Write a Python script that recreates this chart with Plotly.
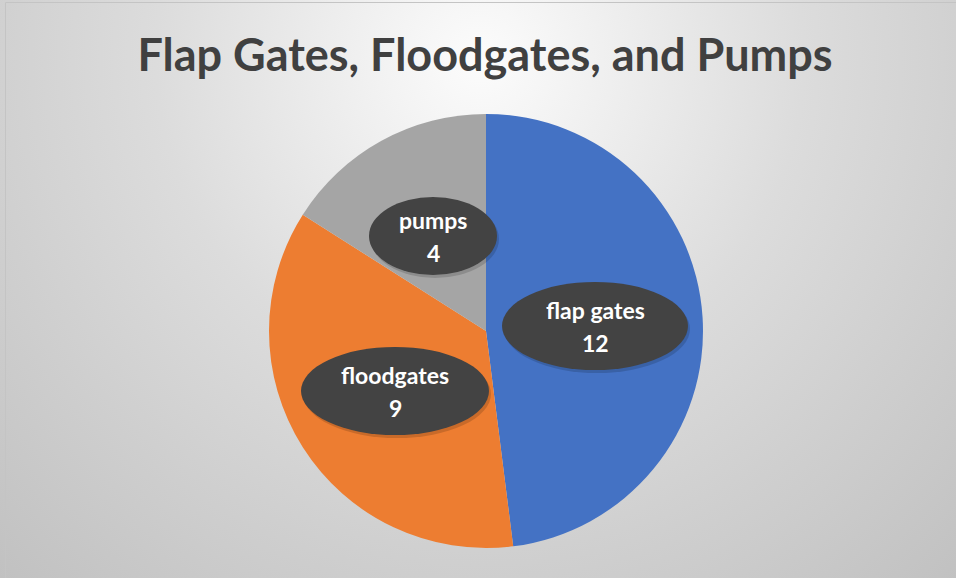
import base64
import plotly.graph_objects as go

# ---- data ----
categories = ["flap gates", "floodgates", "pumps"]
values = [12, 9, 4]
colors = ["#4472C4", "#ED7D31", "#A5A5A5"]
title_text = "Flap Gates, Floodgates, and Pumps"

# ---- layout (pixels) ----
W, H = 956, 578
pie_cx, pie_cy, pie_r = 486, 331, 217
# label bubble centre x, centre y, width, height (pixels), same order as categories
bubbles = [(595, 326, 186, 88), (395, 391, 188, 88), (433, 236, 128, 78)]
FONT = "Lato"


def px(x):
    return x / W


def py(y):
    return 1 - y / H


svg = f'''<svg xmlns="http://www.w3.org/2000/svg" width="{W}" height="{H}">
<defs><radialGradient id="g" gradientUnits="userSpaceOnUse" cx="480" cy="60" r="720">
<stop offset="0" stop-color="#fcfcfc"/>
<stop offset="0.1" stop-color="#f5f5f5"/>
<stop offset="0.45" stop-color="#dcdcdc"/>
<stop offset="0.7" stop-color="#cfcfcf"/>
<stop offset="1" stop-color="#c0c0c0"/>
</radialGradient></defs>
<rect width="{W}" height="{H}" fill="url(#g)"/></svg>'''
src = "data:image/svg+xml;base64," + base64.b64encode(svg.encode()).decode()

fig = go.Figure(
    go.Pie(
        labels=categories,
        values=values,
        marker=dict(colors=colors, line=dict(width=0)),
        sort=False,
        direction="clockwise",
        rotation=0,
        textinfo="none",
        hoverinfo="skip",
        showlegend=False,
        domain=dict(
            x=[px(pie_cx - pie_r), px(pie_cx + pie_r)],
            y=[py(pie_cy + pie_r), py(pie_cy - pie_r)],
        ),
    )
)

shapes = []
annotations = []
for (cx, cy, w, h), cat, val in zip(bubbles, categories, values):
    # soft shadow
    shapes.append(dict(type="circle", xref="paper", yref="paper",
                       x0=px(cx - w / 2 + 2), x1=px(cx + w / 2 + 2),
                       y0=py(cy + h / 2 + 3), y1=py(cy - h / 2 + 3),
                       fillcolor="rgba(0,0,0,0.15)", line=dict(width=0), layer="above"))
    shapes.append(dict(type="circle", xref="paper", yref="paper",
                       x0=px(cx - w / 2), x1=px(cx + w / 2),
                       y0=py(cy + h / 2), y1=py(cy - h / 2),
                       fillcolor="#434343", line=dict(width=0), layer="above"))
    annotations.append(dict(text=f"<b>{cat}</b>", xref="paper", yref="paper",
                            x=px(cx), y=py(cy - 16), showarrow=False,
                            xanchor="center", yanchor="middle",
                            font=dict(family=FONT, size=23, color="white")))
    annotations.append(dict(text=f"<b>{val}</b>", xref="paper", yref="paper",
                            x=px(cx), y=py(cy + 17), showarrow=False,
                            xanchor="center", yanchor="middle",
                            font=dict(family=FONT, size=23, color="white")))

# frame border (top and left visible)
shapes.append(dict(type="rect", xref="paper", yref="paper",
                   x0=px(5.5), x1=px(W + 20), y0=py(H + 20), y1=py(2.5),
                   line=dict(color="#c4c4c4", width=1), fillcolor="rgba(0,0,0,0)",
                   layer="above"))

fig.update_layout(
    width=W, height=H,
    margin=dict(l=0, r=0, t=0, b=0),
    paper_bgcolor="#d8d8d8",
    plot_bgcolor="rgba(0,0,0,0)",
    title=dict(text=f"<b>{title_text}</b>", x=px(485), y=py(55),
               xref="paper", yref="paper", xanchor="center", yanchor="middle",
               font=dict(family=FONT, size=45, color="#404040")),
    images=[dict(source=src, xref="paper", yref="paper", x=0, y=1,
                 sizex=1, sizey=1, xanchor="left", yanchor="top",
                 sizing="stretch", layer="below")],
    shapes=shapes,
    annotations=annotations,
)

fig.write_html(
    "out.html",
    config={"displayModeBar": False},
    post_script="document.body.style.margin='0';document.body.style.overflow='hidden';",
)
